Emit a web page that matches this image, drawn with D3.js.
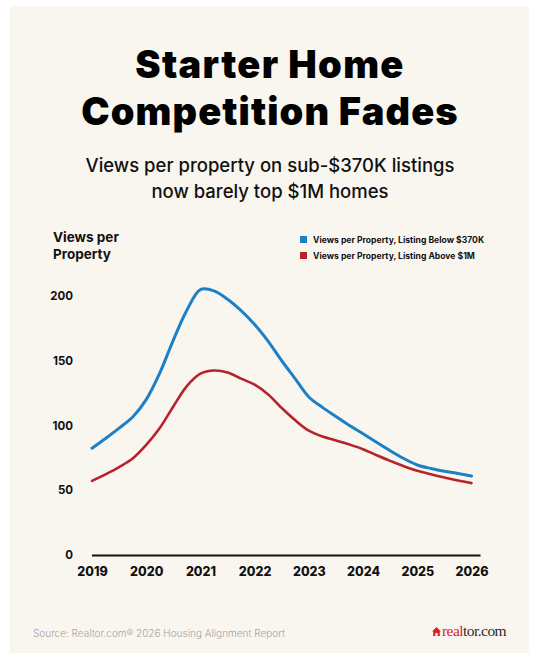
<!DOCTYPE html>
<html lang="en">
<head>
  <meta charset="UTF-8">
  <title>Starter Home Competition Fades</title>
  <script src="https://d3js.org/d3.v7.min.js"></script>
  <style>
    body { margin: 0; background: #fff; }
    text { font-family: Inter, "Noto Sans", sans-serif; }
  </style>
</head>
<body>
<script>
  // Quarterly readings, 2019 Q1 .. 2026 Q1
  const periods = d3.range(0, 29).map(i => 2019 + i * 0.25);
  const below370k = [82.5, 90, 98, 106.6, 120, 140.5, 166, 189, 205, 204, 197.5, 188.7,
    178, 165, 150, 136, 122, 114, 107, 100, 93.7, 87, 80.5, 74.5, 69.5, 66.8, 64.7, 62.9, 61];
  const above1m = [57.2, 62.3, 67.9, 74.5, 85, 98, 114.7, 130.4, 140, 142.5, 141, 136.2,
    131.5, 124, 113.5, 104, 96, 91.5, 88.5, 85.3, 81.7, 77, 72.7, 68.6, 65, 62.3, 59.9, 57.5, 55.5];
  const years = [2019, 2020, 2021, 2022, 2023, 2024, 2025, 2026];
  const yTicks = [0, 50, 100, 150, 200];
  const seriesNames = ['Views per Property, Listing Below $370K', 'Views per Property, Listing Above $1M'];
  const seriesColors = ['#1c80c6', '#b8232b'];

  const width = 542;
  const height = 658;

  const svg = d3.select('body').append('svg')
    .attr('width', width)
    .attr('height', height);

  // card
  svg.append('rect')
    .attr('x', 10).attr('y', 6)
    .attr('width', 519).attr('height', 647)
    .attr('fill', '#f9f6f0');

  // titles
  const cx = 270;
  svg.append('text').attr('x', cx).attr('y', 78).attr('text-anchor', 'middle')
    .attr('font-size', 38).attr('font-weight', 900).attr('fill', '#000')
    .attr('letter-spacing', 1.3)
    .text('Starter Home');
  svg.append('text').attr('x', cx).attr('y', 125).attr('text-anchor', 'middle')
    .attr('font-size', 38).attr('font-weight', 900).attr('fill', '#000')
    .attr('letter-spacing', 1.1)
    .text('Competition Fades');
  svg.append('text').attr('x', cx).attr('y', 172).attr('text-anchor', 'middle')
    .attr('font-size', 18.5).attr('font-weight', 500).attr('fill', '#111')
    .text('Views per property on sub-$370K listings');
  svg.append('text').attr('x', cx).attr('y', 198).attr('text-anchor', 'middle')
    .attr('font-size', 18.5).attr('font-weight', 500).attr('fill', '#111')
    .text('now barely top $1M homes');

  // y axis title
  svg.append('text').attr('x', 53).attr('y', 242)
    .attr('font-size', 13.5).attr('font-weight', 700).attr('fill', '#111')
    .text('Views per');
  svg.append('text').attr('x', 53).attr('y', 259)
    .attr('font-size', 13.5).attr('font-weight', 700).attr('fill', '#111')
    .text('Property');

  // scales
  const x = d3.scaleLinear().domain([2019, 2026]).range([92, 471.5]);
  const y = d3.scaleLinear().domain([0, 200]).range([555, 296]);

  // y axis labels
  const yAxis = svg.append('g')
    .attr('transform', `translate(${x(2019)},0)`)
    .call(d3.axisLeft(y).tickValues(yTicks).tickSize(0).tickPadding(19));
  yAxis.select('.domain').remove();
  yAxis.selectAll('text')
    .attr('font-size', 11.5).attr('font-weight', 700).attr('fill', '#111');

  // x axis labels
  const xAxis = svg.append('g')
    .attr('transform', `translate(0,${y(0)})`)
    .call(d3.axisBottom(x).tickValues(years).tickFormat(d3.format('d')).tickSize(0).tickPadding(12));
  xAxis.select('.domain').remove();
  xAxis.selectAll('text')
    .attr('font-size', 12.5).attr('font-weight', 800).attr('fill', '#111');

  // baseline
  svg.append('line')
    .attr('x1', x(2019)).attr('x2', x(2026) + 9)
    .attr('y1', y(0) + 0.5).attr('y2', y(0) + 0.5)
    .attr('stroke', '#111').attr('stroke-width', 2);

  // lines
  const line = d3.line()
    .x((d, i) => x(periods[i]))
    .y(d => y(d))
    .curve(d3.curveCatmullRom.alpha(0.5));

  [below370k, above1m].forEach((values, k) => {
    svg.append('path')
      .attr('d', line(values))
      .attr('fill', 'none')
      .attr('stroke', seriesColors[k])
      .attr('stroke-width', k === 0 ? 3 : 2.6)
      .attr('stroke-linecap', 'round')
      .attr('stroke-linejoin', 'round');
  });

  // legend
  const legend = svg.append('g').attr('transform', 'translate(300,236)');
  seriesNames.forEach((name, i) => {
    legend.append('rect')
      .attr('x', 0).attr('y', i * 16)
      .attr('width', 7).attr('height', 7)
      .attr('fill', seriesColors[i]);
    legend.append('text')
      .attr('x', 13).attr('y', i * 16 + 7)
      .attr('font-size', 8.6).attr('font-weight', 700).attr('fill', '#111')
      .text(name);
  });

  // source
  svg.append('text').attr('x', 33).attr('y', 637)
    .attr('font-size', 10).attr('font-weight', 300).attr('fill', '#a3a3a3')
    .text('Source: Realtor.com\u00ae 2026 Housing Alignment Report');

  // logo
  const logo = svg.append('g').attr('transform', 'translate(432,636)');
  logo.append('path')
    .attr('d', 'M0,-4.5 L4.5,-9 L9,-4.5 L7.8,-4.5 L7.8,0 L1.2,0 L1.2,-4.5 Z M3.4,0 L3.4,-3 L5.6,-3 L5.6,0 Z')
    .attr('fill', '#d92228').attr('fill-rule', 'evenodd');
  const logoText = logo.append('text').attr('x', 10).attr('y', 0)
    .style('font-family', '"Liberation Serif", "DejaVu Serif", serif')
    .attr('font-size', 15.5).attr('letter-spacing', -0.55);
  logoText.append('tspan').attr('fill', '#d92228').text('real');
  logoText.append('tspan').attr('fill', '#2a2a2a').text('tor.com');
</script>
</body>
</html>
